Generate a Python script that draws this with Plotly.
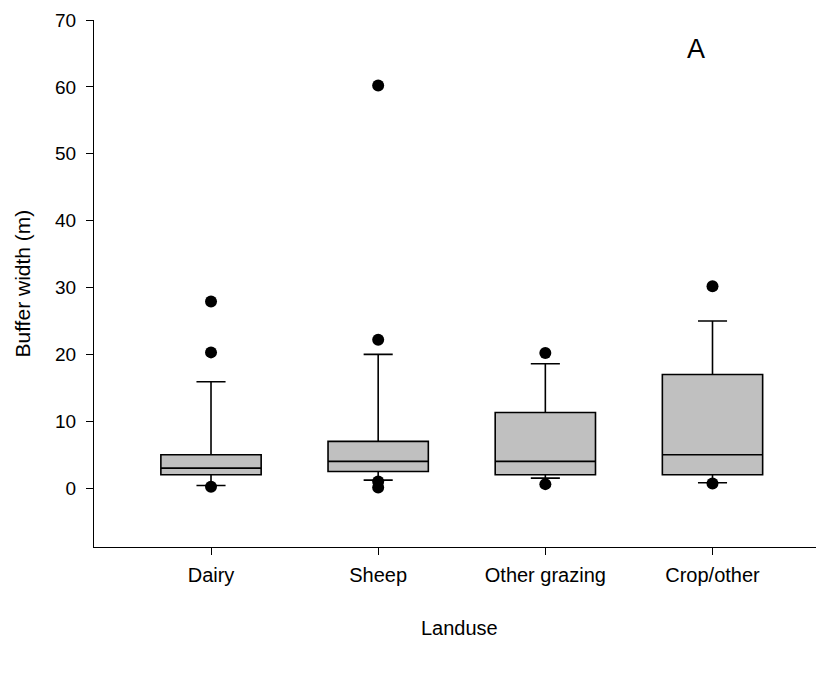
import plotly.graph_objects as go

categories = ["Dairy", "Sheep", "Other grazing", "Crop/other"]
lower_fence = [0.4, 1.2, 1.5, 0.8]
q1 = [2.0, 2.5, 2.0, 2.0]
median = [3.0, 4.0, 4.0, 5.0]
q3 = [5.0, 7.0, 11.3, 17.0]
upper_fence = [15.9, 20.0, 18.6, 25.0]

outlier_cat = ["Dairy", "Dairy", "Dairy",
               "Sheep", "Sheep", "Sheep", "Sheep",
               "Other grazing", "Other grazing",
               "Crop/other", "Crop/other"]
outlier_val = [0.2, 20.3, 27.9,
               0.1, 1.0, 22.2, 60.2,
               0.6, 20.2,
               0.7, 30.2]

y_ticks = [0, 10, 20, 30, 40, 50, 60, 70]

FONT = "Liberation Sans, Arial, sans-serif"

fig = go.Figure()
fig.add_trace(go.Box(
    x=categories,
    q1=q1, median=median, q3=q3,
    lowerfence=lower_fence, upperfence=upper_fence,
    fillcolor="#c0c0c0",
    line=dict(color="black", width=1.6),
    width=0.6,
    whiskerwidth=0.29,
    boxpoints=False,
    showlegend=False,
    hoverinfo="skip",
))
fig.add_trace(go.Scatter(
    x=outlier_cat, y=outlier_val, mode="markers",
    marker=dict(color="black", size=12, line=dict(width=0)),
    showlegend=False,
))

fig.add_annotation(x=0.8247, y=0.945, xref="paper", yref="paper",
                   text="A", showarrow=False, xanchor="center", yanchor="middle",
                   font=dict(family=FONT, size=27, color="black"))
fig.add_annotation(x=0.5, y=-0.153, xref="paper", yref="paper",
                   text="Landuse", showarrow=False, xanchor="center", yanchor="middle",
                   font=dict(family=FONT, size=20, color="black"))
fig.add_annotation(x=-0.0986, y=0.5, xref="paper", yref="paper",
                   text="Buffer width (m)", showarrow=False, textangle=-90,
                   xanchor="center", yanchor="middle",
                   font=dict(family=FONT, size=21, color="black"))

fig.update_layout(
    width=824, height=675,
    margin=dict(l=86, r=8, t=12, b=136),
    paper_bgcolor="white", plot_bgcolor="white",
    font=dict(family=FONT, size=19, color="black"),
    xaxis=dict(
        type="category",
        categoryorder="array", categoryarray=categories,
        range=[-0.7, 3.667],
        showline=True, linecolor="black", linewidth=1.3,
        ticks="outside", ticklen=7, tickwidth=1.3, tickcolor="black",
        showgrid=False, zeroline=False,
        tickfont=dict(size=20),
        ticklabelstandoff=3,
    ),
    yaxis=dict(
        range=[-8.8, 70],
        tickvals=y_ticks,
        showline=True, linecolor="black", linewidth=1.3,
        ticks="outside", ticklen=7, tickwidth=1.3, tickcolor="black",
        showgrid=False, zeroline=False,
        tickfont=dict(size=19),
        ticklabelstandoff=6,
        automargin=False,
    ),
)

fig.write_html("out.html")
